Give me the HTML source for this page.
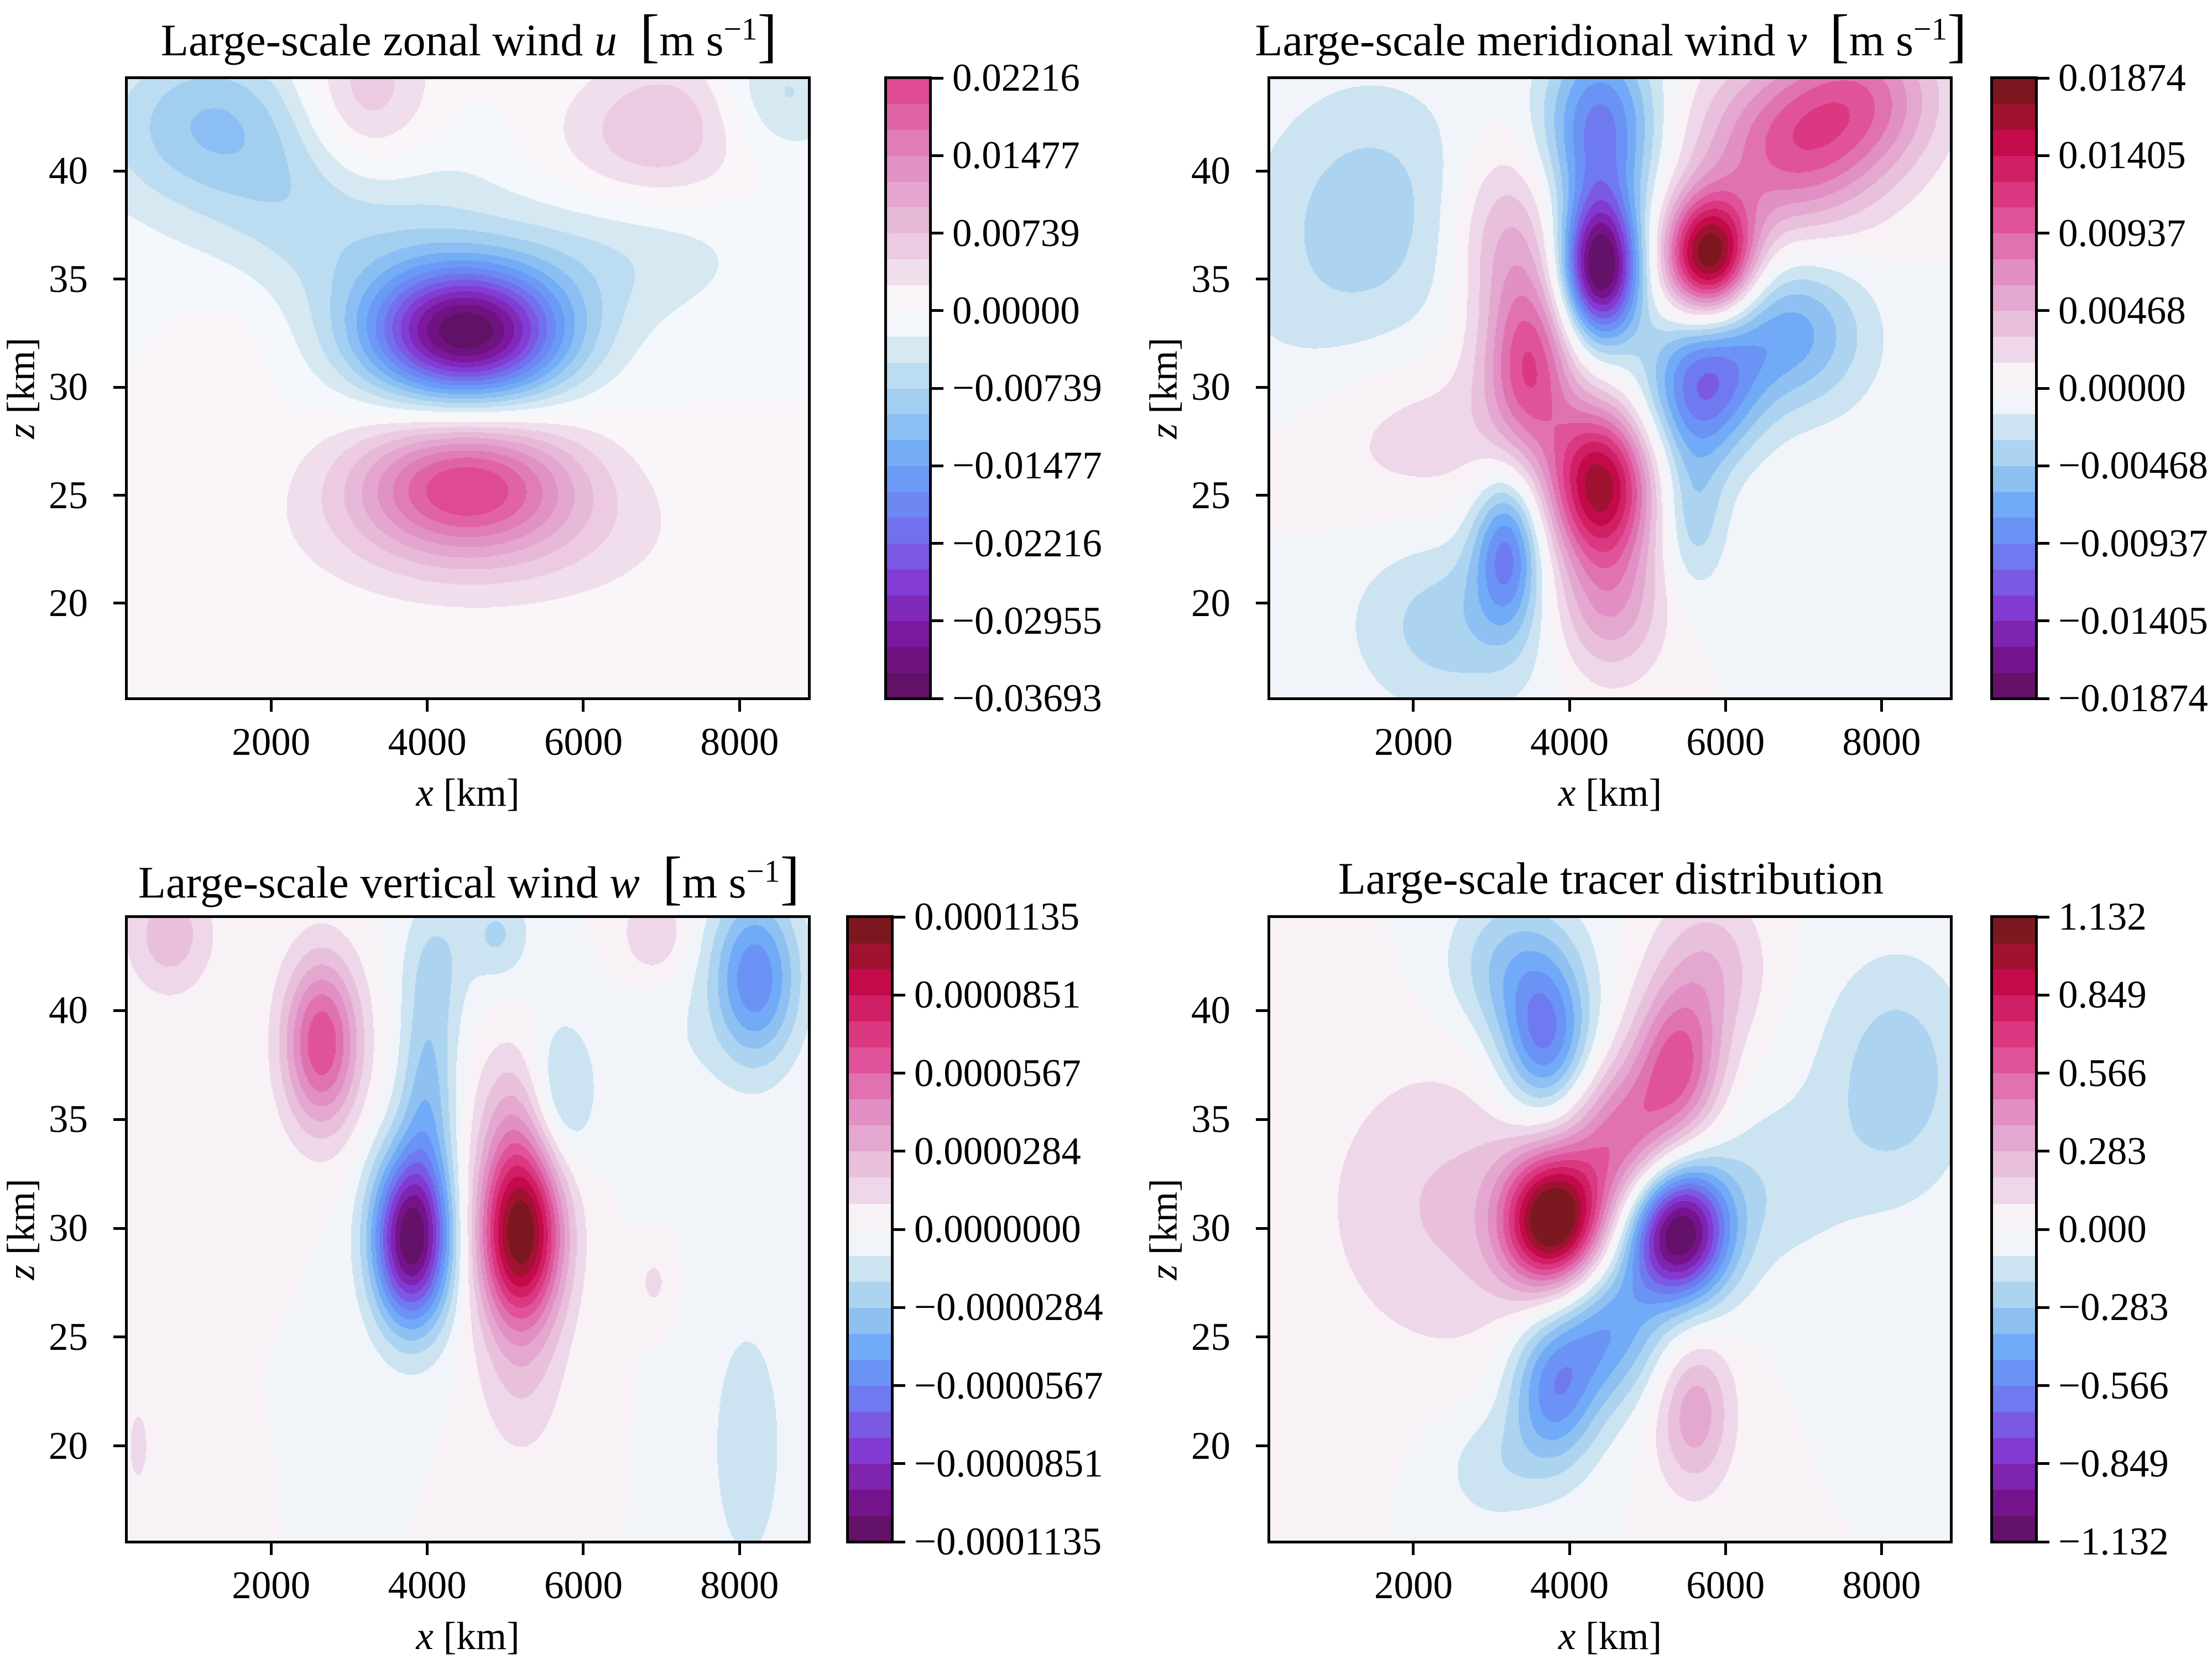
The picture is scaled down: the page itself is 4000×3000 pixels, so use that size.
<!DOCTYPE html>
<html><head><meta charset="utf-8">
<style>
html,body{margin:0;padding:0;background:#fff;}
#root{position:relative;width:4000px;height:3000px;overflow:hidden;font-family:"Liberation Serif","DejaVu Serif",serif;color:#000;}
.ax{position:absolute;box-sizing:border-box;border:5px solid #000;}
.cv{position:absolute;image-rendering:pixelated;}
.lbl{position:absolute;font-size:71px;line-height:1;white-space:nowrap;}
.tick{position:absolute;background:#000;}
.title{position:absolute;font-size:82px;line-height:1;white-space:nowrap;transform:translateX(-50%);}
.title sup{font-size:0.7em;}
.br{font-size:1.3em;}
</style></head>
<body>
<div id="root">
<div class="title" style="left:848px;top:12px">Large-scale zonal wind <i>u</i>&nbsp; <span class="br">[</span>m s<sup>−1</sup><span class="br">]</span></div>
<div class="title" style="left:2913px;top:12px">Large-scale meridional wind <i>v</i>&nbsp; <span class="br">[</span>m s<sup>−1</sup><span class="br">]</span></div>
<div class="title" style="left:848px;top:1535px">Large-scale vertical wind <i>w</i>&nbsp; <span class="br">[</span>m s<sup>−1</sup><span class="br">]</span></div>
<div class="title" style="left:2913px;top:1548px">Large-scale tracer distribution</div>
</div>
<script>
// ---- shared axis data ----
const xTicks = [2000, 4000, 6000, 8000];
const zTicks = [20, 25, 30, 35, 40];
const xMin = 150, xMax = 8890, zMin = 15.6, zMax = 44.3;

// ---- panel 1: zonal wind u (Gaussian blob components) ----
const uX   = [4500, 4500, 4800, 3000, 6500, 1200, 8500, 1500, 3200, 6800, 7300, 1500];
const uZ   = [32.5, 25.5, 23.0, 37.5, 36.5, 43.0, 43.5, 40.5, 43.0, 41.0, 43.0, 32.0];
const uSX  = [900, 1000, 1800, 1200, 1200, 900, 600, 1500, 600, 900, 700, 500];
const uSZ  = [2.2, 2.2, 2.5, 3.0, 2.5, 2.5, 2.0, 2.5, 3.0, 2.5, 2.0, 2.5];
const uAmp = [-0.036, 0.020, 0.004, -0.006, -0.005, -0.007, -0.006, -0.004, 0.008, 0.006, 0.003, 0.0015];
const uTickLabels = ["0.02216","0.01477","0.00739","0.00000","−0.00739","−0.01477","−0.02216","−0.02955","−0.03693"];

// ---- panel 2: meridional wind v ----
const vX   = [4400, 4400, 5800, 6800, 7800, 4400, 3500, 3200, 4500, 5700, 6800, 5600, 3200, 2500, 1500, 1000, 2000, 8300];
const vZ   = [35.5, 42.0, 36.0, 41.0, 43.5, 25.5, 31.0, 37.0, 20.0, 30.0, 32.5, 24.0, 22.5, 19.0, 39.0, 33.0, 28.0, 20.0];
const vSX  = [350, 500, 400, 800, 700, 450, 400, 500, 500, 500, 700, 300, 300, 900, 1000, 1200, 1200, 800];
const vSZ  = [2.3, 3.0, 2.0, 2.8, 2.5, 2.5, 3.0, 3.0, 2.5, 2.5, 2.5, 2.5, 2.5, 3.0, 4.0, 5.0, 3.0, 6.0];
const vAmp = [-0.019, -0.010, 0.019, 0.009, 0.007, 0.016, 0.010, 0.005, 0.006, -0.010, -0.007, -0.004, -0.009, -0.004, -0.003, -0.002, 0.003, -0.001];
const vTickLabels = ["0.01874","0.01405","0.00937","0.00468","0.00000","−0.00468","−0.00937","−0.01405","−0.01874"];

// ---- panel 3: vertical wind w ----
const wX   = [3800, 4000, 4100, 5200, 5200, 2650, 700, 5700, 7000, 8200, 6900, 6900, 4900, 8100, 300, 5100];
const wZ   = [29.5, 36.0, 42.0, 29.8, 23.0, 38.5, 43.5, 36.0, 38.0, 41.5, 43.5, 27.5, 43.5, 20.0, 20.0, 35.5];
const wSX  = [350, 250, 300, 380, 400, 350, 400, 300, 500, 400, 300, 150, 300, 400, 300, 350];
const wSZ  = [2.8, 3.0, 2.5, 3.0, 3.0, 2.8, 2.0, 2.5, 3.0, 2.8, 1.5, 1.0, 1.5, 5.0, 4.0, 2.5];
const wAmp = [-1.13e-4, -3e-5, -2e-5, 1.13e-4, 1.5e-5, 6.5e-5, 2.5e-5, -2.5e-5, -8e-6, -5.5e-5, 2e-5, 1.2e-5, -2e-5, -1.5e-5, 1e-5, 2e-5];
const wTickLabels = ["0.0001135","0.0000851","0.0000567","0.0000284","0.0000000","−0.0000284","−0.0000567","−0.0000851","−0.0001135"];

// ---- panel 4: tracer ----
const tX   = [3800, 5400, 4700, 5400, 5800, 4500, 3800, 3000, 3700, 3300, 5600, 2500, 8200, 6500];
const tZ   = [30.3, 29.8, 34.0, 37.5, 42.0, 25.5, 22.5, 19.0, 38.5, 42.0, 21.5, 31.0, 37.0, 32.0];
const tSX  = [450, 450, 500, 400, 500, 500, 400, 500, 400, 600, 350, 1200, 700, 800];
const tSZ  = [2.2, 2.2, 2.5, 2.5, 2.5, 2.5, 2.5, 2.0, 2.5, 2.5, 2.5, 5.0, 4.0, 3.0];
const tAmp = [1.13, -1.13, 0.5, 0.55, 0.25, -0.45, -0.5, -0.15, -0.55, -0.3, 0.35, 0.2, -0.25, -0.15];
const tTickLabels = ["1.132","0.849","0.566","0.283","0.000","−0.283","−0.566","−0.849","−1.132"];

const root = document.getElementById('root');

const stops = [
 [-1.0,[90,16,88]],[-0.85,[122,20,150]],[-0.7,[132,60,214]],[-0.55,[112,120,240]],
 [-0.4,[104,164,248]],[-0.25,[156,204,240]],[-0.1,[214,232,242]],[-0.03,[246,248,251]],
 [0.03,[249,246,249]],[0.1,[240,222,236]],[0.25,[230,180,214]],[0.4,[224,136,192]],
 [0.55,[224,80,152]],[0.65,[216,48,120]],[0.78,[200,10,80]],[0.9,[150,20,40]],[1.0,[106,26,24]]];
function cmap(t){
  t=Math.max(-1,Math.min(1,t));
  for(let i=0;i<stops.length-1;i++){
    const a=stops[i],b=stops[i+1];
    if(t<=b[0]){const f=(t-a[0])/(b[0]-a[0]);return a[1].map((c,j)=>Math.round(c+(b[1][j]-c)*f));}
  }
  return stops[stops.length-1][1];
}

function el(cls, style){const d=document.createElement('div');d.className=cls;Object.assign(d.style,style);root.appendChild(d);return d;}

function panel(p){
  const W=p.r-p.l, H=p.b-p.t;
  const sx = x => (x-xMin)/(xMax-xMin)*W;
  const sz = z => (zMax-z)/(zMax-zMin)*H;
  const nLev=24, step=(p.vmax-p.vmin)/nLev, vabs=Math.max(Math.abs(p.vmin),Math.abs(p.vmax));
  const bandCol=[];
  for(let k=0;k<nLev;k++){bandCol.push(cmap((p.vmin+(k+0.5)*step)/vabs));}
  const res=2, cw=Math.ceil(W/res), ch=Math.ceil(H/res);
  const c=document.createElement('canvas');c.width=cw;c.height=ch;c.className='cv';
  
  
  Object.assign(c.style,{left:p.l+'px',top:p.t+'px',width:W+'px',height:H+'px'});
  root.appendChild(c);
  const ctx=c.getContext('2d'), img=ctx.createImageData(cw,ch);
  for(let j=0;j<ch;j++){
    const z=zMax-(j+0.5)*res/H*(zMax-zMin);
    for(let i=0;i<cw;i++){
      const x=xMin+(i+0.5)*res/W*(xMax-xMin);
      let v=0;
      for(let n=0;n<p.X.length;n++){
        const dx=(x-p.X[n])/p.SX[n], dz=(z-p.Z[n])/p.SZ[n];
        v+=p.A[n]*Math.exp(-0.5*(dx*dx+dz*dz));
      }
      let k=Math.floor((v-p.vmin)/step);k=Math.max(0,Math.min(nLev-1,k));
      const col=bandCol[k],o=(j*cw+i)*4;
      img.data[o]=col[0];img.data[o+1]=col[1];img.data[o+2]=col[2];img.data[o+3]=255;
    }
  }
  ctx.putImageData(img,0,0);
  const ax=el('ax',{left:(p.l-3)+'px',top:(p.t-3)+'px',width:(W+6)+'px',height:(H+6)+'px'});
  
  
  xTicks.forEach(v=>{
    const X=p.l+sx(v);
    const t=el('tick',{left:(X-2.5)+'px',top:(p.b+2)+'px',width:'5px',height:'22px'});
    
    
    const L=el('lbl',{left:X+'px',top:(p.b+44)+'px',transform:'translateX(-50%)'});L.textContent=v;
    
    
  });
  zTicks.forEach(v=>{
    const Y=p.t+sz(v);
    const t=el('tick',{left:(p.l-24)+'px',top:(Y-2.5)+'px',width:'22px',height:'5px'});
    
    
    const L=el('lbl',{left:(p.l-170)+'px',width:'100px',textAlign:'right',top:(Y-35)+'px'});L.textContent=v;
    
    
  });
  const xl=el('lbl',{left:(p.l+W/2)+'px',top:(p.b+136)+'px',transform:'translateX(-50%)'});
  xl.innerHTML='<i>x</i> [km]';
  
  
  const zl=el('lbl',{left:(p.l-190)+'px',top:(p.t+H/2)+'px',transform:'translate(-50%,-50%) rotate(-90deg)'});
  zl.innerHTML='<i>z</i> [km]';
  
  
  const cbW=80;
  for(let k=0;k<nLev;k++){
    const y0=p.b-(k+1)*H/nLev;
    const col=bandCol[k];
    const r=el('',{position:'absolute',left:p.cb+'px',top:y0+'px',width:cbW+'px',height:(H/nLev+0.6)+'px',background:'rgb('+col.join(',')+')'});
    
    
  }
  const cbf=el('ax',{left:(p.cb-3)+'px',top:(p.t-3)+'px',width:(cbW+6)+'px',height:(H+6)+'px'});
  
  
  p.labels.forEach((s,i)=>{
    const Y=p.t+i*H/(p.labels.length-1);
    const t=el('tick',{left:(p.cb+cbW+2)+'px',top:(Y-2.5)+'px',width:'22px',height:'5px'});
    
    
    const L=el('lbl',{left:(p.cb+cbW+40)+'px',top:(Y-35)+'px'});L.textContent=s;
    
    
  });
}

const top1=141,bot1=1263,top2=1658,bot2=2788;
panel({name:'zonal-wind',l:229,r:1463,t:top1,b:bot1,cb:1602,vmin:-0.03693,vmax:0.02216,X:uX,Z:uZ,SX:uSX,SZ:uSZ,A:uAmp,labels:uTickLabels});
panel({name:'meridional-wind',l:2295,r:3528,t:top1,b:bot1,cb:3602,vmin:-0.01874,vmax:0.01874,X:vX,Z:vZ,SX:vSX,SZ:vSZ,A:vAmp,labels:vTickLabels});
panel({name:'vertical-wind',l:229,r:1463,t:top2,b:bot2,cb:1533,vmin:-0.0001135,vmax:0.0001135,X:wX,Z:wZ,SX:wSX,SZ:wSZ,A:wAmp,labels:wTickLabels});
panel({name:'tracer',l:2295,r:3528,t:top2,b:bot2,cb:3602,vmin:-1.132,vmax:1.132,X:tX,Z:tZ,SX:tSX,SZ:tSZ,A:tAmp,labels:tTickLabels});
</script>
</body></html>
